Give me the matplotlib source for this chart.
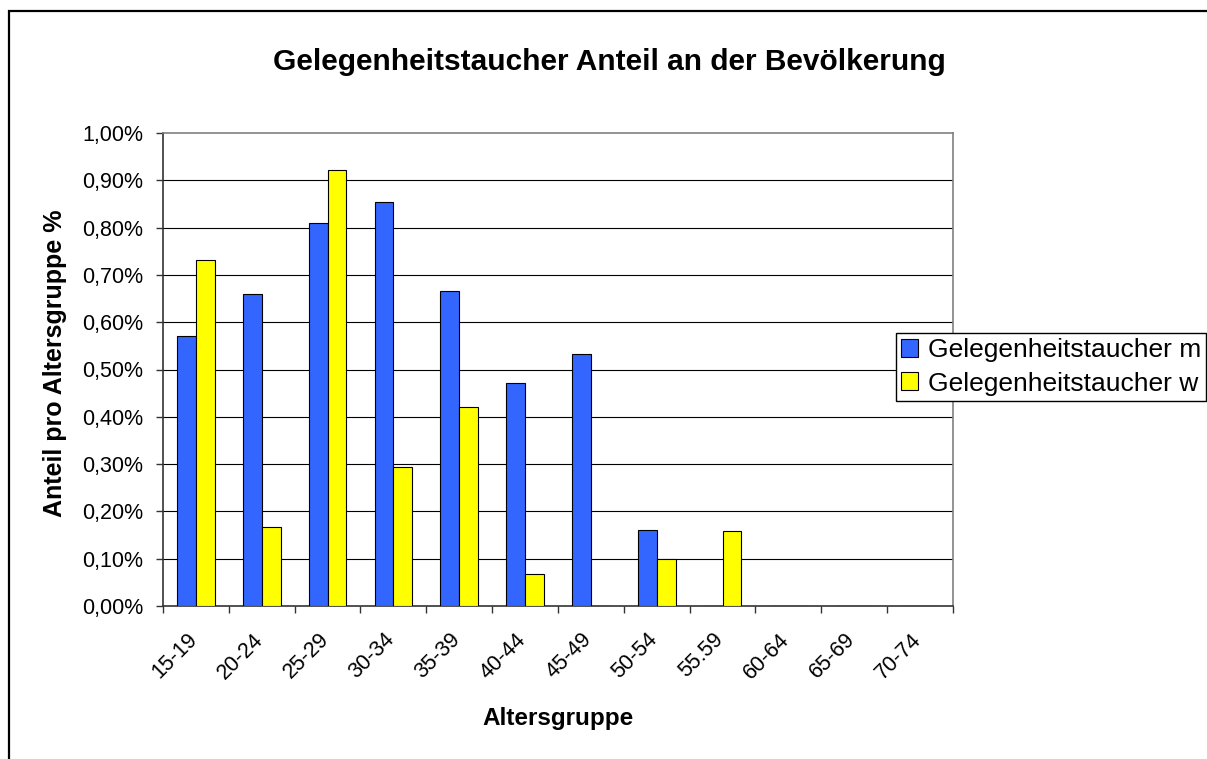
import numpy as np
import matplotlib
matplotlib.use("Agg")
from matplotlib import pyplot as plt
from matplotlib import patches
from matplotlib.ticker import FuncFormatter
import matplotlib.transforms as mtransforms

plt.rcParams['font.family'] = ['Liberation Sans', 'DejaVu Sans']

# data (percent)
age_groups = ["15-19", "20-24", "25-29", "30-34", "35-39", "40-44",
              "45-49", "50-54", "55.59", "60-64", "65-69", "70-74"]
taucher_m = [0.57, 0.66, 0.81, 0.855, 0.665, 0.472, 0.532, 0.161, 0.0, 0.0, 0.0, 0.0]
taucher_w = [0.732, 0.166, 0.922, 0.294, 0.421, 0.067, 0.0, 0.099, 0.159, 0.0, 0.0, 0.0]
y_ticks = [0.0, 0.1, 0.2, 0.3, 0.4, 0.5, 0.6, 0.7, 0.8, 0.9, 1.0]

W, H = 1207, 759
fig = plt.figure(figsize=(W / 100, H / 100), dpi=100)
fig.patch.set_facecolor('white')

# plot area in pixels: left 163, right 953, top 133, bottom 606
ax = fig.add_axes([163 / W, 1 - 606 / H, (953 - 163) / W, (606 - 133) / H])

x = np.arange(len(age_groups))
bw = 1 / 3.5  # gap width 150%
b1 = ax.bar(x - bw / 2, taucher_m, bw, color='#3366FF', edgecolor='black',
            linewidth=0.8, label='Gelegenheitstaucher m', zorder=3)
b2 = ax.bar(x + bw / 2, taucher_w, bw, color='#FFFF00', edgecolor='black',
            linewidth=0.8, label='Gelegenheitstaucher w', zorder=3)

ax.set_xlim(-0.5, len(age_groups) - 0.5)
ax.set_ylim(0, 1.0)

# gridlines
for v in y_ticks[1:-1]:
    ax.axhline(v, color='black', linewidth=0.8, zorder=1)

ax.set_yticks(y_ticks)
ax.yaxis.set_major_formatter(FuncFormatter(lambda v, p: f"{v:.2f}%".replace('.', ',')))
ax.tick_params(axis='y', direction='out', length=5, width=1, color='#333333',
               labelsize=15.5, pad=9)

# category boundary ticks and centered labels
ax.set_xticks(np.arange(-0.5, len(age_groups), 1))
ax.set_xticklabels([])
ax.tick_params(axis='x', which='major', direction='out', length=5, width=1, color='#333333')
ax.set_xticks(x, minor=True)
ax.set_xticklabels(age_groups, minor=True, rotation=45, ha='right',
                   va='center', rotation_mode='anchor', fontsize=15.5)
ax.tick_params(axis='x', which='minor', length=0, pad=22)
offset = mtransforms.ScaledTranslation(-2 / 100, 0, fig.dpi_scale_trans)
for lbl in ax.xaxis.get_minorticklabels():
    lbl.set_transform(lbl.get_transform() + offset)

for side in ['left', 'bottom']:
    ax.spines[side].set_color('#333333')
    ax.spines[side].set_linewidth(1.2)
for side in ['top', 'right']:
    ax.spines[side].set_color('#808080')
    ax.spines[side].set_linewidth(1.2)

fig.text(609 / W, 1 - 62 / H, 'Gelegenheitstaucher Anteil an der Bevölkerung',
         ha='center', va='center', fontsize=21.5, fontweight='bold')
fig.text(55 / W, 1 - 363 / H, 'Anteil pro Altersgruppe %', rotation=90,
         ha='center', va='center', fontsize=18, fontweight='bold')
fig.text(558 / W, 1 - 718 / H, 'Altersgruppe', ha='center', va='center',
         fontsize=17.5, fontweight='bold')

leg = fig.legend(handles=[b1, b2], loc='upper left',
                 bbox_to_anchor=(896 / W, 1 - 333 / H), fontsize=19,
                 frameon=True, fancybox=False, framealpha=1, edgecolor='black',
                 handlelength=0.65, handleheight=0.65, handletextpad=0.35,
                 borderpad=0.2, labelspacing=0.35, borderaxespad=0)
leg.get_frame().set_linewidth(1)

# outer chart border (only left/top visible in the picture)
fig.patches.append(patches.Rectangle((9 / W, -0.1), 1.2, 1 - 11 / H + 0.1,
                                     transform=fig.transFigure, fill=False,
                                     edgecolor='black', linewidth=1.6, zorder=0))

fig.savefig('out.png', dpi=100)
